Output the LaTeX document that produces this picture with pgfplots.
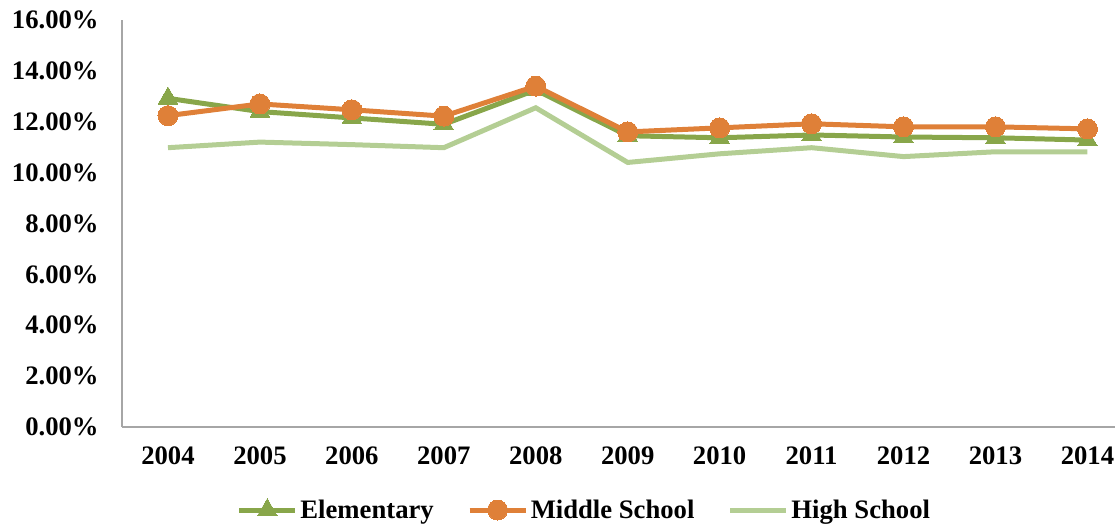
\documentclass[border=0pt]{standalone}
\usepackage{pgfplots}
\pgfplotsset{compat=1.18}
\usepackage{fontspec}
\setmainfont{Liberation Serif}
\definecolor{elem}{HTML}{88A64A}
\definecolor{mid}{HTML}{DF8038}
\definecolor{high}{HTML}{B4CE94}
\definecolor{axgray}{HTML}{A6A6A6}
\begin{document}
\begin{tikzpicture}[x=1pt,y=1pt]
\begin{axis}[
  scale only axis,
  width=744.75pt, height=305.25pt,
  xmin=-0.5, xmax=10.3,
  ymin=0, ymax=16,
  axis x line*=bottom, axis y line*=left,
  axis line style={axgray, line width=1pt, -},
  xtick={0,...,10},
  xticklabels={2004,2005,2006,2007,2008,2009,2010,2011,2012,2013,2014},
  ytick={0,2,...,16},
  major tick length=0pt,
  /pgf/number format/assume math mode=true,
  yticklabel={\pgfmathprintnumber[fixed,fixed zerofill,precision=2]{\tick}\%},
  tick label style={font=\fontsize{20}{24}\selectfont\bfseries},
  yticklabel style={xshift=-14pt},
  xticklabel style={yshift=-11pt},
  legend style={draw=none, at={(0.466,-0.204)}, anchor=center,
    legend columns=-1, font=\fontsize{20}{24}\selectfont\bfseries,
    /tikz/every even column/.append style={column sep=23pt}},
  legend image code/.code={
    \draw[#1, mark repeat=2, mark phase=2] plot coordinates {(0pt,0pt) (21pt,0pt) (42pt,0pt)};},
]
\addplot[elem, line width=3.75pt, mark=triangle*, mark size=8.5pt, mark options={line width=0pt}]
  coordinates {(0,12.92) (1,12.40) (2,12.15) (3,11.90) (4,13.25) (5,11.45) (6,11.37) (7,11.48) (8,11.40) (9,11.37) (10,11.28)};
\addlegendentry{Elementary}
\addplot[mid, line width=3.75pt, mark=*, mark size=7.5pt, mark options={line width=0pt}]
  coordinates {(0,12.24) (1,12.70) (2,12.47) (3,12.22) (4,13.40) (5,11.60) (6,11.76) (7,11.92) (8,11.80) (9,11.80) (10,11.72)};
\addlegendentry{Middle School}
\addplot[high, line width=3.75pt]
  coordinates {(0,10.98) (1,11.20) (2,11.10) (3,10.98) (4,12.55) (5,10.40) (6,10.74) (7,10.98) (8,10.63) (9,10.82) (10,10.82)};
\addlegendentry{High School}
\end{axis}
\pgfresetboundingbox
\path[use as bounding box] ([xshift=-91.5pt,yshift=-73.5pt]current axis.south west) rectangle ([yshift=15pt]current axis.north east);
\end{tikzpicture}
\end{document}
